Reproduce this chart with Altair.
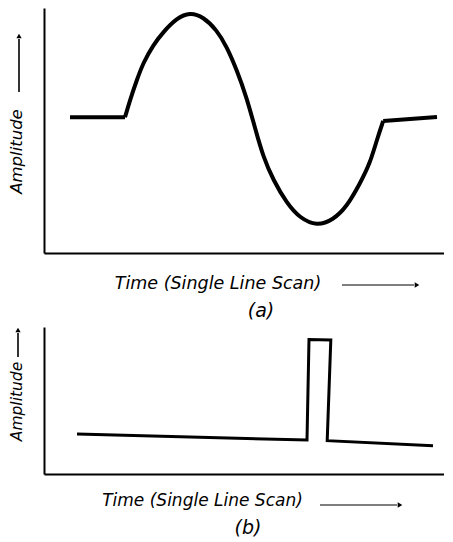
import altair as alt
import pandas as pd

# Panel (a): sine burst on a flat level (time 0-100, amplitude 0-100)
t_a = [6.5, 20.25,
       20.25, 21.5, 23.2, 24.8, 27.3, 29.8, 33.2, 36.5, 39.8, 43.2, 45.7, 48.2, 50.7, 52.75,
       54.8, 57.3, 60.7, 64.0, 68.2, 72.3, 75.7, 79.0, 81.5, 83.2, 84.8,
       84.8, 98.25]
amp_a = [55.4, 55.4,
         55.4, 62.4, 70.6, 77.6, 84.9, 90.2, 95.9, 98.2, 96.4, 91.0, 84.2, 74.7, 63.3, 51.0,
         39.3, 29.8, 20.3, 14.2, 11.0, 13.5, 18.9, 28.4, 36.6, 46.1, 53.9,
         53.9, 55.5]
seg_a = ["flat1"] * 2 + ["burst"] * 25 + ["flat2"] * 2

# Panel (b): single pulse on a flat level
t_b = [8.25, 65.75, 66.25, 71.7, 70.8, 97.25]
amp_b = [27.2, 23.1, 91.5, 91.2, 22.7, 19.3]
seg_b = ["pulse"] * 6

x_title = "Time (Single Line Scan)"
y_title = "Amplitude"
labels = ["(a)", "(b)"]

FONT = "DejaVu Sans"
df_a = pd.DataFrame({"t": t_a, "amp": amp_a, "seg": seg_a, "i": range(len(t_a))})
df_b = pd.DataFrame({"t": t_b, "amp": amp_b, "seg": seg_b, "i": range(len(t_b))})
one = pd.DataFrame({"k": [0]})


def axis_x(tx, ty, fs):
    return alt.Axis(title=x_title, labels=False, ticks=False, grid=False,
                    domainColor="black", domainWidth=2,
                    titleFont=FONT, titleFontStyle="italic", titleFontWeight="normal",
                    titleFontSize=fs, titleColor="black",
                    titleX=tx, titleY=ty, titleAlign="center", titleBaseline="middle")


def axis_y(tx, ty, fs):
    return alt.Axis(title=y_title, labels=False, ticks=False, grid=False,
                    domainColor="black", domainWidth=2,
                    titleFont=FONT, titleFontStyle="italic", titleFontWeight="normal",
                    titleFontSize=fs, titleColor="black", titleAngle=270,
                    titleX=tx, titleY=ty, titleAlign="center", titleBaseline="middle")


def panel(df, w, h, stroke, interp, join, xt, yt, xarrow, yarrow, label, label_pos):
    sc = alt.Scale(domain=[0, 100], nice=False, zero=False)
    line = alt.Chart(df).mark_line(color="black", strokeWidth=stroke, interpolate=interp,
                                   strokeJoin=join, strokeCap="butt").encode(
        x=alt.X("t:Q", scale=sc, axis=axis_x(*xt)),
        y=alt.Y("amp:Q", scale=sc, axis=axis_y(*yt)),
        detail="seg:N",
        order="i:Q",
    )
    base = alt.Chart(one)
    xr = base.mark_rule(color="black", strokeWidth=1.2).encode(
        x=alt.value(xarrow[0]), x2=alt.value(xarrow[1] - 6), y=alt.value(xarrow[2]))
    xh = base.mark_point(shape="triangle-right", filled=True, size=28, color="black", opacity=1).encode(
        x=alt.value(xarrow[1] - 3), y=alt.value(xarrow[2]))
    yr = base.mark_rule(color="black", strokeWidth=1.6).encode(
        x=alt.value(yarrow[0]), y=alt.value(yarrow[1] + 6), y2=alt.value(yarrow[2]))
    yh = base.mark_point(shape="triangle-up", filled=True, size=28, color="black", opacity=1).encode(
        x=alt.value(yarrow[0]), y=alt.value(yarrow[1] + 3))
    lab = base.mark_text(text=label, font=FONT, fontSize=19, fontStyle="italic", color="black").encode(
        x=alt.value(label_pos[0]), y=alt.value(label_pos[1]))
    return alt.layer(line, xr, xh, yr, yh, lab).properties(width=w, height=h)


top = panel(df_a, 400, 245, 4, "basis", "round", (173.5, 30, 17.5), (-28, 143, 16.5),
            (298, 376, 277), (-25, 25, 84), labels[0], (217, 303))
bottom = panel(df_b, 400, 147, 3, "linear", "miter", (158, 26, 17), (-28, 74, 15.5),
               (276, 359, 178), (-26, 0, 30), labels[1], (204, 201))

chart = alt.vconcat(top, bottom, spacing=74, bounds="flush").properties(padding=0).configure_view(stroke=None)

chart.save("out.html", embed_options={"renderer": "svg", "actions": False})
